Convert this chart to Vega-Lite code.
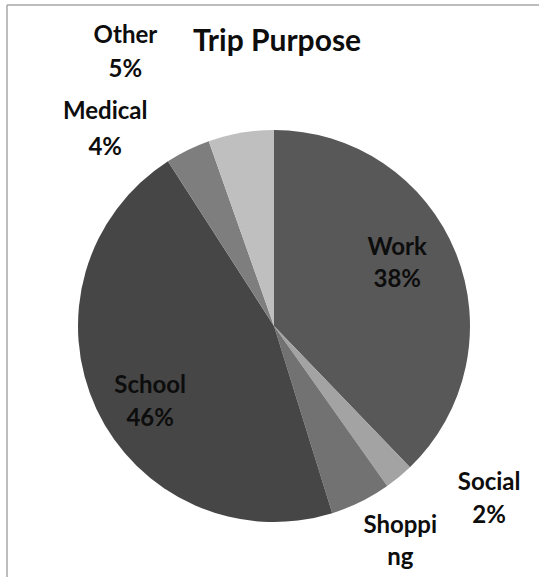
{
  "$schema": "https://vega.github.io/schema/vega-lite/v6.json",
  "autosize": {"type": "none"},
  "padding": {"left": 7, "top": 5, "right": 0, "bottom": 0},
  "width": 532,
  "height": 572,
  "background": "white",
  "view": {"stroke": "#a8a8a8", "strokeWidth": 1.5, "strokeDash": [532, 1104, 572, 0]},
  "config": {
    "text": {"font": "Lato", "fontWeight": "bold", "fontSize": 24, "color": "#0d0d0d", "baseline": "alphabetic", "align": "center"}
  },
  "title": {
    "text": "Trip Purpose",
    "font": "Lato",
    "fontWeight": "bold",
    "fontSize": 30,
    "color": "#0d0d0d",
    "anchor": "middle",
    "frame": "group",
    "baseline": "alphabetic",
    "offset": -76,
    "dx": 4
  },
  "data": {
    "values": [
      {"purpose": "Work", "share": 0.378, "rank": 1},
      {"purpose": "Social", "share": 0.024, "rank": 2},
      {"purpose": "Shopping", "share": 0.05, "rank": 3},
      {"purpose": "School", "share": 0.457, "rank": 4},
      {"purpose": "Medical", "share": 0.037, "rank": 5},
      {"purpose": "Other", "share": 0.054, "rank": 6}
    ]
  },
  "encoding": {
    "theta": {"field": "share", "type": "quantitative", "stack": true},
    "order": {"field": "rank", "type": "quantitative"}
  },
  "layer": [
    {
      "mark": {"type": "arc", "radius": 196, "xOffset": 1, "yOffset": 35, "stroke": null},
      "encoding": {
        "color": {
          "field": "purpose",
          "type": "nominal",
          "scale": {
            "domain": ["Work", "Social", "Shopping", "School", "Medical", "Other"],
            "range": ["#585858", "#a3a3a3", "#727272", "#464646", "#7e7e7e", "#bfbfbf"]
          },
          "legend": null
        }
      }
    },
    {
      "mark": {"type": "text", "radius": 135, "dx": -2, "dy": -20.5, "xOffset": 1, "yOffset": 35},
      "encoding": {"text": {"condition": {"test": "datum.purpose === 'Work'", "field": "purpose", "type": "nominal"}, "value": ""}}
    },
    {
      "mark": {"type": "text", "radius": 135, "dx": -2, "dy": 11.5, "xOffset": 1, "yOffset": 35},
      "encoding": {"text": {"condition": {"test": "datum.purpose === 'Work'", "field": "share", "type": "quantitative", "format": ".0%"}, "value": ""}}
    },
    {
      "mark": {"type": "text", "radius": 140, "dx": 3, "dy": 8, "xOffset": 1, "yOffset": 35},
      "encoding": {"text": {"condition": {"test": "datum.purpose === 'School'", "field": "purpose", "type": "nominal"}, "value": ""}}
    },
    {
      "mark": {"type": "text", "radius": 140, "dx": 3, "dy": 41, "xOffset": 1, "yOffset": 35},
      "encoding": {"text": {"condition": {"test": "datum.purpose === 'School'", "field": "share", "type": "quantitative", "format": ".0%"}, "value": ""}}
    },
    {
      "mark": {"type": "text", "radius": 220, "dx": -72, "dy": -9.5, "xOffset": 1, "yOffset": 35},
      "encoding": {"text": {"condition": {"test": "datum.purpose === 'Medical'", "field": "purpose", "type": "nominal"}, "value": ""}}
    },
    {
      "mark": {"type": "text", "radius": 220, "dx": -72, "dy": 26.5, "xOffset": 1, "yOffset": 35},
      "encoding": {"text": {"condition": {"test": "datum.purpose === 'Medical'", "field": "share", "type": "quantitative", "format": ".0%"}, "value": ""}}
    },
    {
      "mark": {"type": "text", "radius": 270, "dx": -103, "dy": -17, "xOffset": 1, "yOffset": 35},
      "encoding": {"text": {"condition": {"test": "datum.purpose === 'Other'", "field": "purpose", "type": "nominal"}, "value": ""}}
    },
    {
      "mark": {"type": "text", "radius": 270, "dx": -103, "dy": 17, "xOffset": 1, "yOffset": 35},
      "encoding": {"text": {"condition": {"test": "datum.purpose === 'Other'", "field": "share", "type": "quantitative", "format": ".0%"}, "value": ""}}
    },
    {
      "mark": {"type": "text", "radius": 223, "dx": 73, "dy": -8, "xOffset": 1, "yOffset": 35},
      "encoding": {"text": {"condition": {"test": "datum.purpose === 'Social'", "field": "purpose", "type": "nominal"}, "value": ""}}
    },
    {
      "mark": {"type": "text", "radius": 223, "dx": 73, "dy": 25, "xOffset": 1, "yOffset": 35},
      "encoding": {"text": {"condition": {"test": "datum.purpose === 'Social'", "field": "share", "type": "quantitative", "format": ".0%"}, "value": ""}}
    },
    {
      "mark": {"type": "text", "radius": 240, "dx": 20, "dy": -8, "lineHeight": 32, "xOffset": 1, "yOffset": 35},
      "encoding": {"text": {"condition": {"test": "datum.purpose === 'Shopping'", "value": ["Shoppi", "ng"]}, "value": ""}}
    }
  ]
}
